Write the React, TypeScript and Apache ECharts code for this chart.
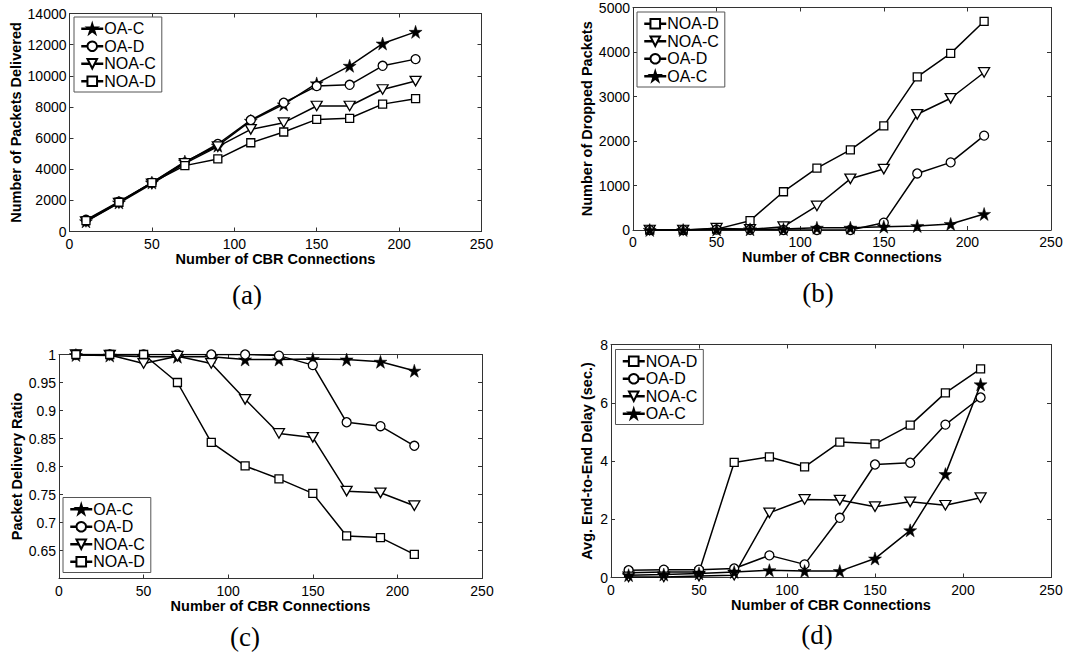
import React, { useEffect, useRef } from "react";
import * as echarts from "echarts";

const X = [10, 30, 50, 70, 90, 110, 130, 150, 170, 190, 210];

// (a) Number of Packets Delivered
const aOAC = [650, 1860, 3140, 4490, 5510, 7110, 8160, 9510, 10640, 12070, 12820];
const aOAD = [750, 1920, 3140, 4440, 5620, 7160, 8270, 9340, 9420, 10640, 11070];
const aNOAC = [640, 1820, 3060, 4380, 5450, 6560, 6990, 8060, 8060, 9120, 9660];
const aNOAD = [700, 1880, 3140, 4230, 4660, 5700, 6390, 7200, 7270, 8180, 8530];

// (b) Number of Dropped Packets
const bNOAD = [0, 0, 20, 210, 860, 1390, 1800, 2340, 3440, 3970, 4690];
const bNOAC = [0, 0, 40, 15, 75, 540, 1150, 1370, 2600, 2960, 3540];
const bOAD = [0, 0, 10, 5, 0, 0, 0, 165, 1270, 1520, 2120];
const bOAC = [0, 0, 10, 15, 20, 50, 50, 75, 90, 135, 360];

// (c) Packet Delivery Ratio
const cOAC = [0.999, 0.998, 0.996, 0.996, 0.996, 0.991, 0.991, 0.992, 0.991, 0.987, 0.971];
const cOAD = [1, 1, 1, 1, 1, 1, 0.998, 0.981, 0.879, 0.872, 0.837];
const cNOAC = [1, 0.999, 0.984, 0.997, 0.984, 0.92, 0.859, 0.852, 0.756, 0.753, 0.73];
const cNOAD = [1, 1, 1, 0.95, 0.843, 0.801, 0.778, 0.752, 0.676, 0.673, 0.643];

// (d) Avg. End-to-End Delay (sec.)
const dNOAD = [0.16, 0.19, 0.19, 3.95, 4.14, 3.8, 4.65, 4.59, 5.23, 6.34, 7.16];
const dOAD = [0.25, 0.27, 0.27, 0.31, 0.76, 0.45, 2.05, 3.88, 3.94, 5.25, 6.18];
const dNOAC = [0.02, 0.02, 0.05, 0.08, 2.22, 2.68, 2.66, 2.43, 2.6, 2.48, 2.74];
const dOAC = [0.08, 0.1, 0.14, 0.19, 0.25, 0.22, 0.22, 0.65, 1.62, 3.55, 6.63];

const X_TITLE = "Number of CBR Connections";
const CAPTIONS = ["(a)", "(b)", "(c)", "(d)"];

const STAR =
  "path://M50,0 L61.2,34.5 L97.6,34.5 L68.2,55.9 L79.4,90.5 L50,69.1 L20.6,90.5 L31.8,55.9 L2.4,34.5 L38.8,34.5 Z";
const TRI_DOWN = "path://M0,0 L12,0 L6,10.4 Z";

const FONT = "'Liberation Sans', Arial, sans-serif";

const STYLES: Record<string, any> = {
  "OA-C": { symbol: STAR, symbolSize: 13, itemStyle: { color: "#000", borderColor: "#000", borderWidth: 0.5 } },
  "OA-D": { symbol: "circle", symbolSize: 9, itemStyle: { color: "#fff", borderColor: "#000", borderWidth: 1.3 } },
  "NOA-C": { symbol: TRI_DOWN, symbolSize: [11, 9.5], itemStyle: { color: "#fff", borderColor: "#000", borderWidth: 1.3 } },
  "NOA-D": { symbol: "rect", symbolSize: 8, itemStyle: { color: "#fff", borderColor: "#000", borderWidth: 1.3 } },
};

type Panel = {
  grid: { left: number; top: number; width: number; height: number };
  yName: string;
  yMin: number;
  yMax: number;
  yInterval: number;
  yNameGap: number;
  yFormatter?: (v: number) => string;
  series: { name: string; data: number[] }[];
  legendPos: { left: number; top: number };
  caption: { x: number; y: number };
};

const PANELS: Panel[] = [
  {
    grid: { left: 69.5, top: 13.5, width: 412, height: 218 },
    yName: "Number of Packets Delivered",
    yMin: 0,
    yMax: 14000,
    yInterval: 2000,
    yNameGap: 43,
    series: [
      { name: "OA-C", data: aOAC },
      { name: "OA-D", data: aOAD },
      { name: "NOA-C", data: aNOAC },
      { name: "NOA-D", data: aNOAD },
    ],
    legendPos: { left: 74, top: 17 },
    caption: { x: 247, y: 295 },
  },
  {
    grid: { left: 633, top: 7.5, width: 418, height: 222.5 },
    yName: "Number of Dropped Packets",
    yMin: 0,
    yMax: 5000,
    yInterval: 1000,
    yNameGap: 39,
    series: [
      { name: "NOA-D", data: bNOAD },
      { name: "NOA-C", data: bNOAC },
      { name: "OA-D", data: bOAD },
      { name: "OA-C", data: bOAC },
    ],
    legendPos: { left: 637, top: 12 },
    caption: { x: 818, y: 293 },
  },
  {
    grid: { left: 59, top: 354.5, width: 423, height: 224 },
    yName: "Packet Delivery Ratio",
    yMin: 0.6,
    yMax: 1,
    yInterval: 0.05,
    yNameGap: 35,
    yFormatter: (v: number) => (v < 0.62 ? "" : String(+v.toFixed(2))),
    series: [
      { name: "OA-C", data: cOAC },
      { name: "OA-D", data: cOAD },
      { name: "NOA-C", data: cNOAC },
      { name: "NOA-D", data: cNOAD },
    ],
    legendPos: { left: 63, top: 497.5 },
    caption: { x: 245, y: 637 },
  },
  {
    grid: { left: 611, top: 344.5, width: 440, height: 233 },
    yName: "Avg. End-to-End Delay (sec.)",
    yMin: 0,
    yMax: 8,
    yInterval: 2,
    yNameGap: 17,
    series: [
      { name: "NOA-D", data: dNOAD },
      { name: "OA-D", data: dOAD },
      { name: "NOA-C", data: dNOAC },
      { name: "OA-C", data: dOAC },
    ],
    legendPos: { left: 615.5, top: 349.5 },
    caption: { x: 817, y: 635 },
  },
];

const AXIS_COLOR = "#333";

function buildOption() {
  const grid: any[] = [];
  const xAxis: any[] = [];
  const yAxis: any[] = [];
  const series: any[] = [];
  const legend: any[] = [];
  const graphic: any[] = [];

  PANELS.forEach((p, i) => {
    grid.push({ ...p.grid, show: false, containLabel: false });
    const tick = { show: true, inside: true, length: 4, lineStyle: { color: AXIS_COLOR, width: 1 } };
    const line = { show: true, onZero: false, lineStyle: { color: AXIS_COLOR, width: 1 } };
    xAxis.push({
      type: "value",
      gridIndex: i,
      min: 0,
      max: 250,
      interval: 50,
      position: "bottom",
      axisLine: line,
      axisTick: tick,
      splitLine: { show: false },
      axisLabel: { color: "#000", fontSize: 14, fontFamily: FONT, margin: 5 },
      name: X_TITLE,
      nameLocation: "middle",
      nameGap: 17,
      nameTextStyle: { color: "#000", fontSize: 14.5, fontWeight: "bold", fontFamily: FONT },
    });
    xAxis.push({
      type: "value",
      gridIndex: i,
      min: 0,
      max: 250,
      interval: 50,
      position: "top",
      axisLine: line,
      axisTick: tick,
      splitLine: { show: false },
      axisLabel: { show: false },
    });
    yAxis.push({
      type: "value",
      gridIndex: i,
      min: p.yMin,
      max: p.yMax,
      interval: p.yInterval,
      position: "left",
      axisLine: line,
      axisTick: tick,
      splitLine: { show: false },
      axisLabel: {
        color: "#000",
        fontSize: 14,
        fontFamily: FONT,
        margin: 3,
        formatter: p.yFormatter ? p.yFormatter : (v: number) => String(v),
      },
      name: p.yName,
      nameLocation: "middle",
      nameRotate: 90,
      nameGap: p.yNameGap,
      nameTextStyle: { color: "#000", fontSize: 14.5, fontWeight: "bold", fontFamily: FONT },
    });
    yAxis.push({
      type: "value",
      gridIndex: i,
      min: p.yMin,
      max: p.yMax,
      interval: p.yInterval,
      position: "right",
      axisLine: line,
      axisTick: tick,
      splitLine: { show: false },
      axisLabel: { show: false },
    });

    p.series.forEach((s) => {
      const st = STYLES[s.name];
      series.push({
        type: "line",
        name: s.name,
        xAxisIndex: i * 2,
        yAxisIndex: i * 2,
        data: X.map((x, k) => [x, s.data[k]]),
        symbol: st.symbol,
        symbolSize: st.symbolSize,
        showAllSymbol: true,
        itemStyle: st.itemStyle,
        lineStyle: { color: "#000", width: 1.5 },
        emphasis: { disabled: true },
        z: 2,
      });
    });

    legend.push({
      orient: "vertical",
      left: p.legendPos.left,
      top: p.legendPos.top,
      data: p.series.map((s) => s.name),
      selectedMode: false,
      backgroundColor: "#fff",
      borderColor: "#555",
      borderWidth: 1,
      borderRadius: 0,
      padding: [3, 6, 2, 6],
      itemWidth: 22,
      itemHeight: 12,
      itemGap: 0,
      lineStyle: { width: 2.5, color: "#000" },
      textStyle: {
        color: "#000",
        fontSize: 16,
        fontFamily: FONT,
        lineHeight: 17.5,
        padding: [0, 0, 0, -4],
      },
    });

    graphic.push({
      type: "text",
      x: p.caption.x,
      y: p.caption.y,
      style: {
        text: CAPTIONS[i],
        font: "27px 'Liberation Serif', 'DejaVu Serif', serif",
        fill: "#000",
        textAlign: "center",
        textVerticalAlign: "middle",
      },
    });
  });

  return {
    animation: false,
    backgroundColor: "#fff",
    grid,
    xAxis,
    yAxis,
    series,
    legend,
    graphic,
  };
}

export default function App() {
  const ref = useRef<HTMLDivElement>(null);
  useEffect(() => {
    if (!ref.current) return;
    const chart = echarts.init(ref.current, undefined, { renderer: "svg" });
    chart.setOption(buildOption() as any);
    return () => chart.dispose();
  }, []);
  return (
    <div
      ref={ref}
      style={{ position: "fixed", left: 0, top: 0, width: 1092, height: 658, background: "#fff" }}
    />
  );
}
